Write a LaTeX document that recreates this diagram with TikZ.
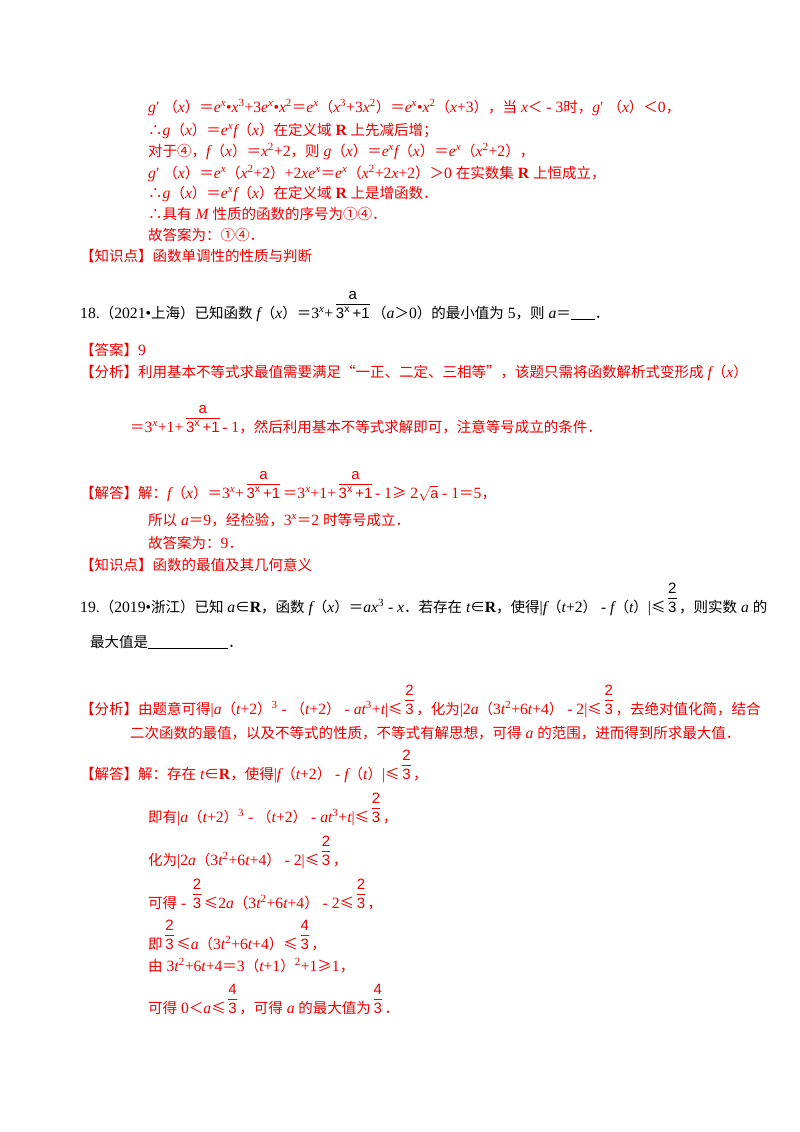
\documentclass[tikz,border=0pt]{standalone}
\usepackage{fontspec}
\setmainfont{Liberation Serif}[Scale=1.08]
\setsansfont{Liberation Sans}
\newfontfamily\cjk{Noto Sans CJK SC}
\newXeTeXintercharclass\cjkcls
\newcount\cc
\def\setrange#1#2{\cc=#1 \loop\XeTeXcharclass\cc=\cjkcls\ifnum\cc<#2 \advance\cc 1 \repeat}
\setrange{"4E00}{"9FFF}
\setrange{"3000}{"303F}
\setrange{"FF00}{"FFEF}
\setrange{"2460}{"2473}
\XeTeXcharclass"2234=\cjkcls
\XeTeXcharclass"2208=\cjkcls
\XeTeXcharclass"2264=\cjkcls
\XeTeXcharclass"2265=\cjkcls
\XeTeXcharclass"201C=\cjkcls
\XeTeXcharclass"201D=\cjkcls
\XeTeXinterchartokenstate=1
\XeTeXinterchartoks 0 \cjkcls = {\cjk}
\XeTeXinterchartoks 4095 \cjkcls = {\cjk}
\XeTeXinterchartoks \cjkcls 0 = {\rmfamily}
\XeTeXinterchartoks \cjkcls 4095 = {\rmfamily}
\newcommand\I[1]{{\itshape #1}}
\newcommand\su[1]{\textsuperscript{#1}}
\newcommand\B[1]{{\bfseries #1}}
\newcommand\fr[2]{\,{\fontsize{15}{16}\selectfont\begin{tabular}[b]{@{}c@{}}{\sffamily #1}\\[-1pt]\hline\rule{0pt}{14pt}{\sffamily #2}\end{tabular}}\,}
\newcommand\frx{\fr{a}{3\su{x}\,+1}}
\newcommand\blank[1]{\underline{\hspace{#1}}}
\definecolor{ans}{RGB}{238,0,0}
\begin{document}
\begin{tikzpicture}[x=1pt,y=-1pt,
  t/.style={anchor=base west,inner sep=0pt,text=ans,font=\fontsize{14.5}{17}\selectfont},
  k/.style={t,text=black}]
\useasboundingbox (0,0) rectangle (800,1132);
\fill[white] (0,0) rectangle (800,1132);
\node[t] (l1) at (148,112) {\I{g}′ （\I{x}）＝\I{e}\su{\I{x}}•\I{x}\su{3}+3\I{e}\su{\I{x}}•\I{x}\su{2}＝\I{e}\su{\I{x}}（\I{x}\su{3}+3\I{x}\su{2}）＝\I{e}\su{\I{x}}•\I{x}\su{2}（\I{x}+3），当 \I{x}＜ - 3时，\I{g}′ （\I{x}）＜0，};
\node[t] (l2) at (148,135) {∴\I{g}（\I{x}）＝\I{e}\su{\I{x}}\I{f}（\I{x}）在定义域 \B{R} 上先减后增；};
\node[t] (l3) at (148,156) {对于④，\I{f}（\I{x}）＝\I{x}\su{2}+2，则 \I{g}（\I{x}）＝\I{e}\su{\I{x}}\I{f}（\I{x}）＝\I{e}\su{\I{x}}（\I{x}\su{2}+2），};
\node[t] (l4) at (148,178) {\I{g}′ （\I{x}）＝\I{e}\su{\I{x}}（\I{x}\su{2}+2）+2\I{xe}\su{\I{x}}＝\I{e}\su{\I{x}}（\I{x}\su{2}+2\I{x}+2）＞0 在实数集 \B{R} 上恒成立，};
\node[t] (l5) at (148,198) {∴\I{g}（\I{x}）＝\I{e}\su{\I{x}}\I{f}（\I{x}）在定义域 \B{R} 上是增函数．};
\node[t] (l6) at (148,219) {∴具有 \I{M} 性质的函数的序号为①④．};
\node[t] (l7) at (148,240) {故答案为：①④．};
\node[t] (l8) at (80,261) {【知识点】函数单调性的性质与判断};
\node[k] (q18) at (80,318) {18.（2021•上海）已知函数 \I{f}（\I{x}）＝3\su{\I{x}}+\frx（\I{a}＞0）的最小值为 5，则 \I{a}＝\blank{24pt}．};
\node[t] (a18) at (80,355) {【答案】9};
\node[t] (f18) at (80,377) {【分析】利用基本不等式求最值需要满足“一正、二定、三相等”，该题只需将函数解析式变形成 \I{f}（\I{x}）};
\node[t] (f18b) at (130,432) {＝3\su{\I{x}}+1+\frx - 1，然后利用基本不等式求解即可，注意等号成立的条件．};
\node[t] (j18) at (80,498) {【解答】解：\I{f}（\I{x}）＝3\su{\I{x}}+\frx＝3\su{\I{x}}+1+\frx - 1≥ 2$\sqrt{\mathsf{a}}$ - 1＝5，};
\node[t] (j18b) at (148,525) {所以 \I{a}＝9，经检验，3\su{\I{x}}＝2 时等号成立．};
\node[t] (j18c) at (148,548) {故答案为：9．};
\node[t] (z18) at (80,570) {【知识点】函数的最值及其几何意义};
\node[k] (q19) at (80,612) {19.（2019•浙江）已知 \I{a}∈\B{R}，函数 \I{f}（\I{x}）＝\I{ax}\su{3} - \I{x}．若存在 \I{t}∈\B{R}，使得|\I{f}（\I{t}+2） - \I{f}（\I{t}）|≤\fr{2}{3}，则实数 \I{a} 的};
\node[k] (q19b) at (90,647) {最大值是\blank{80pt}．};
\node[t] (f19) at (80,714) {【分析】由题意可得|\I{a}（\I{t}+2）\su{3} - （\I{t}+2） - \I{at}\su{3}+\I{t}|≤\fr{2}{3}，化为|2\I{a}（3\I{t}\su{2}+6\I{t}+4） - 2|≤\fr{2}{3}，去绝对值化简，结合};
\node[t] (f19b) at (130,738) {二次函数的最值，以及不等式的性质，不等式有解思想，可得 \I{a} 的范围，进而得到所求最大值．};
\node[t] (j19) at (80,779) {【解答】解：存在 \I{t}∈\B{R}，使得|\I{f}（\I{t}+2） - \I{f}（\I{t}）|≤\fr{2}{3}，};
\node[t] (j19b) at (148,822) {即有|\I{a}（\I{t}+2）\su{3} - （\I{t}+2） - \I{at}\su{3}+\I{t}|≤\fr{2}{3}，};
\node[t] (j19c) at (148,865) {化为|2\I{a}（3\I{t}\su{2}+6\I{t}+4） - 2|≤\fr{2}{3}，};
\node[t] (j19d) at (148,908) {可得 - \fr{2}{3}≤2\I{a}（3\I{t}\su{2}+6\I{t}+4） - 2≤\fr{2}{3}，};
\node[t] (j19e) at (148,949) {即\fr{2}{3}≤\I{a}（3\I{t}\su{2}+6\I{t}+4）≤\fr{4}{3}，};
\node[t] (j19f) at (148,971) {由 3\I{t}\su{2}+6\I{t}+4＝3（\I{t}+1）\su{2}+1≥1，};
\node[t] (j19g) at (148,1013) {可得 0＜\I{a}≤\fr{4}{3}，可得 \I{a} 的最大值为\fr{4}{3}．};
\end{tikzpicture}
\end{document}
